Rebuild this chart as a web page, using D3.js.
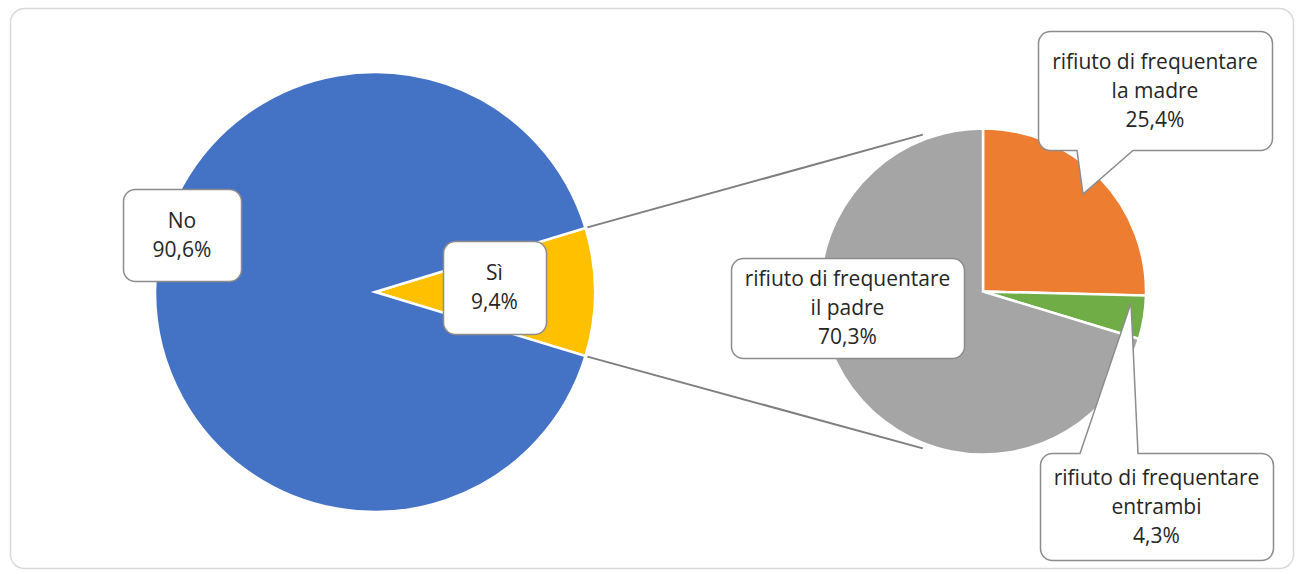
<!DOCTYPE html>
<html><head><meta charset="utf-8">
<script src="https://cdn.jsdelivr.net/npm/d3@7"></script>
<style>html,body{margin:0;padding:0;background:#fff;}svg{display:block;}</style>
</head><body>
<svg id="chart" width="1299" height="574"></svg>
<script>
// ---- data ----
const mainCategories = ["Sì", "No"];
const mainValues = [9.4, 90.6];
const mainLabels = ["9,4%", "90,6%"];
const subCategories = ["rifiuto di frequentare\nla madre", "rifiuto di frequentare\nentrambi", "rifiuto di frequentare\nil padre"];
const subValues = [25.4, 4.3, 70.3];
const subLabels = ["25,4%", "4,3%", "70,3%"];
const mainColors = ["#FFC000", "#4472C4"];
const subColors = ["#ED7D31", "#70AD47", "#A5A5A5"];

const svg = d3.select("#chart");
const FONT = "'Open Sans', 'Noto Sans', sans-serif";
const FS = 21;
const LH = 29;

// frame
svg.append("rect").attr("x", 10.5).attr("y", 8.5).attr("width", 1283).attr("height", 560)
  .attr("rx", 14).attr("fill", "#fff").attr("stroke", "#d9d9d9").attr("stroke-width", 1.5);

// main pie
const c1 = [375, 292], r1 = 220;
const frac1 = mainValues[0] / d3.sum(mainValues);
const start1 = Math.PI / 2 - frac1 * Math.PI;
const pie1 = d3.pie().sort(null).startAngle(start1).endAngle(start1 + 2 * Math.PI)(mainValues);
const arc1 = d3.arc().innerRadius(0).outerRadius(r1);
const g1 = svg.append("g").attr("transform", `translate(${c1})`);
g1.selectAll("path").data(pie1).join("path")
  .attr("d", arc1).attr("fill", (d, i) => mainColors[i])
  .attr("stroke", "#fff").attr("stroke-width", 2.5).attr("stroke-linejoin", "miter");

// secondary pie
const c2 = [983, 291.5], r2 = 163;
const pie2 = d3.pie().sort(null).startAngle(0).endAngle(2 * Math.PI)(subValues);
const arc2 = d3.arc().innerRadius(0).outerRadius(r2);
const g2 = svg.append("g").attr("transform", `translate(${c2})`);
g2.selectAll("path").data(pie2).join("path")
  .attr("d", arc2).attr("fill", (d, i) => subColors[i])
  .attr("stroke", "#fff").attr("stroke-width", 2.5);

// connector lines
const pt = (c, r, a) => [c[0] + r * Math.sin(a), c[1] - r * Math.cos(a)];
const aTan = -21 * Math.PI / 180;
const linesData = [
  [pt(c1, r1 + 2, pie1[0].startAngle), pt(c2, r2 + 5, aTan)],
  [pt(c1, r1 + 2, pie1[0].endAngle), pt(c2, r2 + 5, Math.PI - aTan)]
];
svg.selectAll("line.conn").data(linesData).join("line").attr("class", "conn")
  .attr("x1", d => d[0][0]).attr("y1", d => d[0][1])
  .attr("x2", d => d[1][0]).attr("y2", d => d[1][1])
  .attr("stroke", "#7f7f7f").attr("stroke-width", 2);

// callout boxes
function roundRectPath(x, y, w, h, r, tail) {
  const p = d3.path();
  p.moveTo(x + r, y);
  if (tail && tail.side === "top") {
    p.lineTo(tail.x1, y); p.lineTo(tail.tip[0], tail.tip[1]); p.lineTo(tail.x2, y);
  }
  p.lineTo(x + w - r, y);
  p.arcTo(x + w, y, x + w, y + r, r);
  p.lineTo(x + w, y + h - r);
  p.arcTo(x + w, y + h, x + w - r, y + h, r);
  if (tail && tail.side === "bottom") {
    p.lineTo(tail.x2, y + h); p.lineTo(tail.tip[0], tail.tip[1]); p.lineTo(tail.x1, y + h);
  }
  p.lineTo(x + r, y + h);
  p.arcTo(x, y + h, x, y + h - r, r);
  p.lineTo(x, y + r);
  p.arcTo(x, y, x + r, y, r);
  p.closePath();
  return p.toString();
}

const boxes = [
  { lines: [mainCategories[1], mainLabels[1]], x: 123, y: 189, w: 118, h: 92 },
  { lines: [mainCategories[0], mainLabels[0]], x: 443, y: 241, w: 103, h: 93 },
  { lines: [...subCategories[2].split("\n"), subLabels[2]], x: 731, y: 258, w: 233, h: 100 },
  { lines: [...subCategories[0].split("\n"), subLabels[0]], x: 1038, y: 31, w: 234, h: 119,
    tail: { side: "bottom", x1: 1077, x2: 1133, tip: [1083, 194] } },
  { lines: [...subCategories[1].split("\n"), subLabels[1]], x: 1040, y: 453, w: 233, h: 107,
    tail: { side: "top", x1: 1080, x2: 1138, tip: [1131, 303] } }
];

const bg = svg.append("g");
boxes.forEach(b => {
  bg.append("path").attr("d", roundRectPath(b.x + 0.5, b.y + 0.5, b.w, b.h, 12, b.tail))
    .attr("fill", "#fff").attr("stroke", "#8c8c8c").attr("stroke-width", 1.5)
    .attr("stroke-linejoin", "miter");
  const n = b.lines.length;
  const cx = b.x + b.w / 2, cy = b.y + b.h / 2;
  const t = bg.append("text").attr("x", cx).attr("text-anchor", "middle")
    .attr("font-family", FONT).attr("font-size", FS).attr("fill", "#262626");
  b.lines.forEach((l, i) => {
    t.append("tspan").attr("x", cx)
      .attr("y", cy + (i - (n - 1) / 2) * LH).attr("dy", "0.35em").text(l);
  });
});
</script>
</body></html>
